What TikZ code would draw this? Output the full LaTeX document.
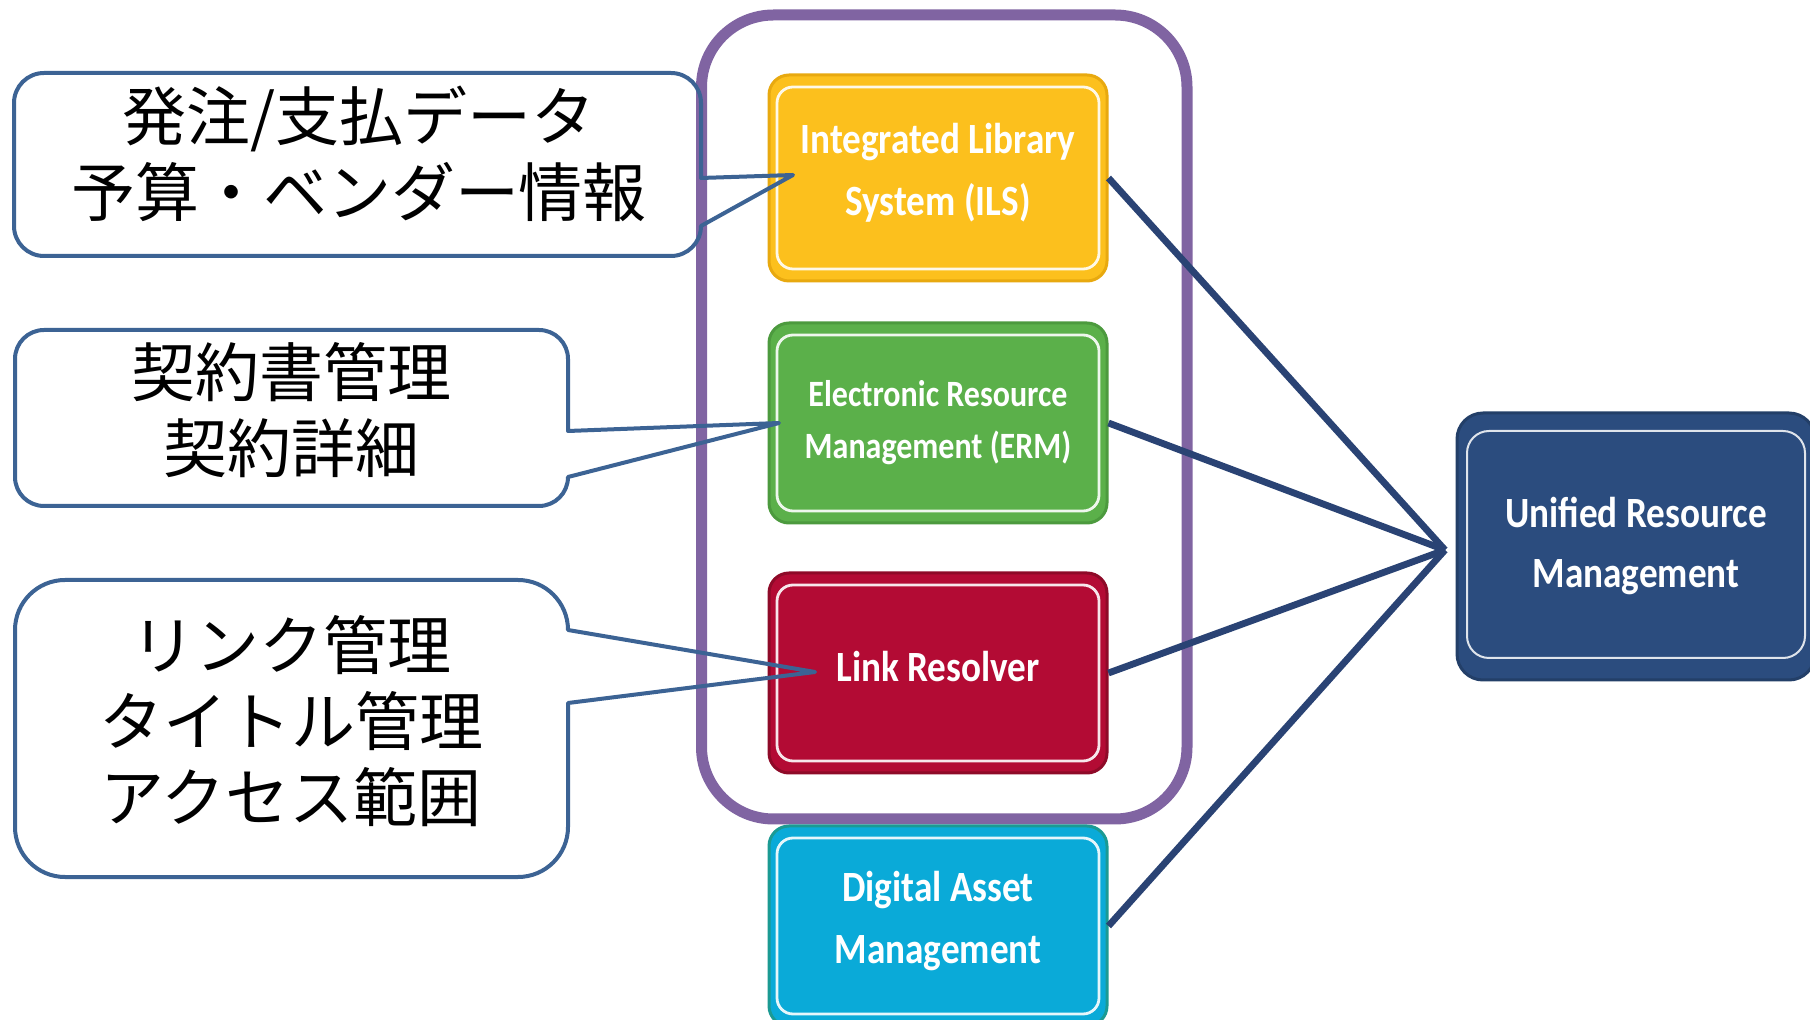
\documentclass[tikz,border=0pt]{standalone}
\usepackage{fontspec}
\usepackage{graphicx}
\setmainfont{Carlito}
\newfontfamily\jpfont{Noto Sans CJK JP}
\newcommand\sysTxt[2][3pt]{\raisebox{#1}[\height][\depth]{\scalebox{1}[1.16]{\begin{tabular}{@{}c@{}}#2\end{tabular}}}}
\definecolor{ilsfill}{HTML}{FCC01D}
\definecolor{ilsedge}{HTML}{E8A90F}
\definecolor{ermfill}{HTML}{5BB04A}
\definecolor{ermedge}{HTML}{4C9A3E}
\definecolor{lrfill}{HTML}{B30B34}
\definecolor{lredge}{HTML}{8E0A28}
\definecolor{damfill}{HTML}{0AAAD8}
\definecolor{damedge}{HTML}{1B9A93}
\definecolor{urmfill}{HTML}{2B4C7E}
\definecolor{urmedge}{HTML}{233F68}
\definecolor{grpedge}{HTML}{8064A2}
\definecolor{calledge}{HTML}{3C6394}
\definecolor{linkcol}{HTML}{2A4374}
\tikzset{
  sysbox/.style={rectangle, rounded corners=10pt, line width=1.5pt,
    minimum width=169pt, minimum height=100pt, inner sep=0pt,
    text=white, font=\fontsize{18.6}{26.5}\selectfont\bfseries,
    path picture={\draw[white, opacity=0.9, line width=1.4pt, rounded corners=8pt]
      ([xshift=4pt,yshift=-6pt]path picture bounding box.north west) rectangle
      ([xshift=-4pt,yshift=6pt]path picture bounding box.south east);}},
  urmbox/.style={rectangle, rounded corners=13pt, line width=1.5pt,
    minimum width=179pt, minimum height=133.5pt, inner sep=0pt,
    text=white, font=\fontsize{18.6}{26}\selectfont\bfseries,
    path picture={\draw[white, opacity=0.85, line width=1pt, rounded corners=11pt]
      ([xshift=5pt,yshift=-9pt]path picture bounding box.north west) rectangle
      ([xshift=-5pt,yshift=11pt]path picture bounding box.south east);}},
  grpframe/.style={rectangle, rounded corners=36pt, draw=grpedge, line width=5.5pt,
    minimum width=242.75pt, minimum height=402pt, inner sep=0pt},
  callout/.style={draw=calledge, line width=2pt, line join=round},
  calltext/.style={font=\jpfont\fontsize{32}{38}\selectfont, align=center, text=black, inner sep=0pt},
  link/.style={draw=linkcol, line width=3.4pt},
}
\begin{document}
\begin{tikzpicture}[x=0.5pt,y=-0.5pt]
\fill[white] (0,0) rectangle (1810,1020);
\useasboundingbox (0,0) rectangle (1810,1020);

% group frame
\node[grpframe] (grp) at (944.25,417) {};

% system boxes
\node[sysbox, fill=ilsfill, draw=ilsedge, minimum height=103pt] (ils) at (938,178)
  {\sysTxt{Integrated Library\\System (ILS)}};
\node[sysbox, fill=ermfill, draw=ermedge, font=\fontsize{16}{22.2}\selectfont\bfseries] (erm) at (938,423)
  {\sysTxt[0.5pt]{Electronic Resource\\Management (ERM)}};
\node[sysbox, fill=lrfill, draw=lredge] (lr) at (938,673)
  {\sysTxt[1.7pt]{Link Resolver}};
\node[sysbox, fill=damfill, draw=damedge] (dam) at (938,926)
  {\sysTxt{Digital Asset\\Management}};
\node[urmbox, fill=urmfill, draw=urmedge] (urm) at (1636,546.5)
  {\sysTxt[0.5pt]{Unified Resource\\Management}};

% connectors
\coordinate (hub) at (1445,550);
\draw[link] (ils.east) -- (hub);
\draw[link] (erm.east) -- (hub);
\draw[link] (lr.east) -- (hub);
\draw[link] (dam.east) -- (hub);

% callouts
\coordinate (tip1) at (793,175);
\coordinate (tip2) at (779,423);
\coordinate (tip3) at (815,672);

\draw[callout] (701,178) -- (tip1) -- (701,226)
  .. controls (701,242.57) and (687.57,256) .. (671,256)
  -- (44,256) .. controls (27.43,256) and (14,242.57) .. (14,226)
  -- (14,103) .. controls (14,86.43) and (27.43,73) .. (44,73)
  -- (671,73) .. controls (687.57,73) and (701,86.43) .. (701,103)
  -- cycle;
\draw[callout] (568,431) -- (tip2) -- (568,477)
  .. controls (568,493.02) and (555.02,506) .. (539,506)
  -- (44,506) .. controls (27.98,506) and (15,493.02) .. (15,477)
  -- (15,359) .. controls (15,342.98) and (27.98,330) .. (44,330)
  -- (539,330) .. controls (555.02,330) and (568,342.98) .. (568,359)
  -- cycle;
\draw[callout] (568,630) -- (tip3) -- (568,703)
  -- (568,827) .. controls (568,854.6) and (545.6,877) .. (518,877)
  -- (65,877) .. controls (37.4,877) and (15,854.6) .. (15,827)
  -- (15,630) .. controls (15,602.4) and (37.4,580) .. (65,580)
  -- (518,580) .. controls (545.6,580) and (568,602.4) .. (568,630)
  -- cycle;

\node[calltext] (t1) at (359,154) {発注/支払データ\\予算・ベンダー情報};
\node[calltext] (t2) at (291,410) {契約書管理\\契約詳細};
\node[calltext] (t3) at (291,721) {リンク管理\\タイトル管理\\アクセス範囲};
\end{tikzpicture}
\end{document}
